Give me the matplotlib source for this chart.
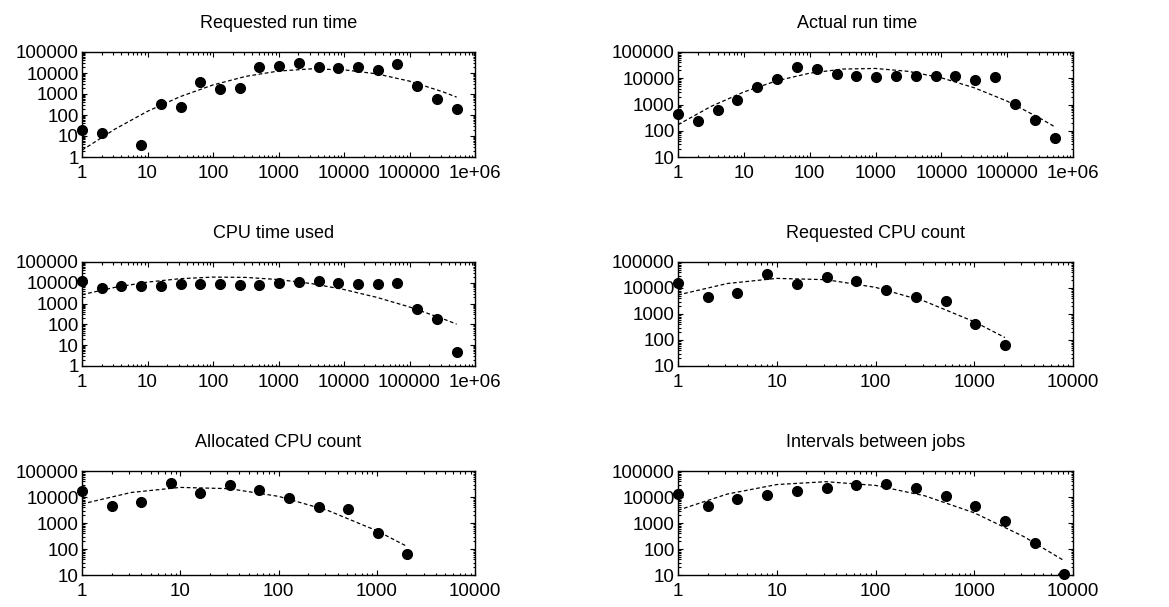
import numpy as np
import matplotlib
matplotlib.use("Agg")
import matplotlib.pyplot as plt
from matplotlib.ticker import LogLocator, FuncFormatter, NullFormatter

plt.rcParams['font.family'] = ['Liberation Sans', 'DejaVu Sans']

# bin positions (powers of two)
x_time = [1, 2, 4, 8, 16, 32, 64, 128, 256, 512, 1024, 2048, 4096, 8192,
          16384, 32768, 65536, 131072, 262144, 524288]
x_req_run = [1, 2, 8, 16, 32, 64, 128, 256, 512, 1024, 2048, 4096, 8192,
             16384, 32768, 65536, 131072, 262144, 524288]
x_cpu = [1, 2, 4, 8, 16, 32, 64, 128, 256, 512, 1024, 2048]
x_gap = [1, 2, 4, 8, 16, 32, 64, 128, 256, 512, 1024, 2048, 4096, 8192]

# counts per bin
req_run_y = [19, 14, 3.8, 330, 250, 3800, 1700, 1870, 20000, 22000, 30000,
             19000, 16500, 18500, 13800, 25700, 2450, 580, 200]
act_run_y = [420, 245, 600, 1480, 4500, 9500, 27000, 22000, 14000, 12300,
             11200, 12600, 12300, 12300, 11700, 8400, 10700, 1020, 260, 52]
cpu_used_y = [12300, 5700, 7100, 6800, 7300, 8500, 9100, 8500, 8200, 7900,
              9500, 11400, 12800, 10200, 9100, 8500, 9900, 580, 178, 4.9]
req_cpu_y = [15800, 4500, 6200, 34000, 14000, 27000, 17800, 8500, 4350,
             3150, 405, 66]
alloc_cpu_y = [16500, 4700, 6300, 35500, 14700, 28000, 18600, 9100, 4300,
               3500, 420, 66]
gap_y = [13100, 4700, 8400, 12300, 17000, 22900, 29000, 31000, 22900, 11300,
         4400, 1200, 174, 10.6]

# fitted curves (dashed)
fit_x_time = [1, 3.16, 10, 31.6, 100, 316, 1000, 3160, 10000, 31600,
              100000, 316000, 524288]
req_run_fit = [2.1, 21, 150, 750, 2700, 6900, 12400, 15700, 14200, 9100,
               4100, 1300, 710]
act_run_fit = [170, 840, 3000, 8000, 15600, 22400, 23600, 18300, 10400,
               4350, 1340, 300, 143]
cpu_used_fit = [2700, 6000, 10800, 15800, 18800, 18200, 14300, 9200, 4750,
                2000, 690, 192, 103]
fit_x_cpu = [1, 3.16, 10, 31.6, 100, 316, 1000, 2048]
req_cpu_fit = [5400, 14900, 23400, 20900, 10600, 3070, 505, 124]
alloc_cpu_fit = [5400, 14900, 23400, 20900, 10600, 3070, 505, 124]
fit_x_gap = [1, 3.16, 10, 31.6, 100, 316, 1000, 3160, 8192]
gap_fit = [3100, 13000, 30100, 38800, 27900, 11100, 2460, 303, 35]

titles = ["Requested run time", "Actual run time", "CPU time used",
          "Requested CPU count", "Allocated CPU count", "Intervals between jobs"]

W, H = 1169, 607
fig = plt.figure(figsize=(W / 100, H / 100), dpi=100)

cols = [(82, 393), (678, 395)]
rows = [(52, 105), (262, 104), (471, 104)]


def make_ax(r, c):
    x0, w = cols[c]
    y0, h = rows[r]
    return fig.add_axes([x0 / W, 1 - (y0 + h) / H, w / W, h / H])


panels = [
    (x_req_run, req_run_y, fit_x_time, req_run_fit, (1, 1e6), (1, 1e5), 0.5),
    (x_time, act_run_y, fit_x_time, act_run_fit, (1, 1e6), (10, 1e5), 0.453),
    (x_time, cpu_used_y, fit_x_time, cpu_used_fit, (1, 1e6), (1, 1e5), 0.487),
    (x_cpu, req_cpu_y, fit_x_cpu, req_cpu_fit, (1, 1e4), (10, 1e5), 0.5),
    (x_cpu, alloc_cpu_y, fit_x_cpu, alloc_cpu_fit, (1, 1e4), (10, 1e5), 0.5),
    (x_gap, gap_y, fit_x_gap, gap_fit, (1, 1e4), (10, 1e5), 0.5),
]

xfmt = FuncFormatter(lambda v, p: "1e+06" if v >= 1e6 else f"{v:.0f}")
yfmt = FuncFormatter(lambda v, p: f"{v:.0f}")

for i, (px, py, fx, fy, xl, yl, tx) in enumerate(panels):
    ax = make_ax(i // 2, i % 2)
    ax.set_xscale('log')
    ax.set_yscale('log')
    ax.plot(fx, fy, color='black', linestyle=(0, (3, 2)), linewidth=0.9)
    ax.plot(px, py, 'o', color='black', markersize=7, clip_on=False, zorder=5)
    ax.set_xlim(*xl)
    ax.set_ylim(*yl)
    ax.set_title(titles[i], fontsize=13, pad=17, x=tx)

    for axis in (ax.xaxis, ax.yaxis):
        axis.set_major_locator(LogLocator(base=10, numticks=20))
        axis.set_minor_locator(LogLocator(base=10, subs=np.arange(2, 10), numticks=20))
        axis.set_minor_formatter(NullFormatter())
    ax.xaxis.set_major_formatter(xfmt)
    ax.yaxis.set_major_formatter(yfmt)

    ax.tick_params(which='both', direction='in', top=True, right=True,
                   labelsize=13.5, width=0.8, colors='black')
    ax.tick_params(which='major', length=3.5)
    ax.tick_params(which='minor', length=1.8)
    ax.tick_params(axis='x', pad=6)
    ax.tick_params(axis='y', pad=2.5)
    for s in ax.spines.values():
        s.set_linewidth(1.0)

fig.savefig("out.png", dpi=100)
